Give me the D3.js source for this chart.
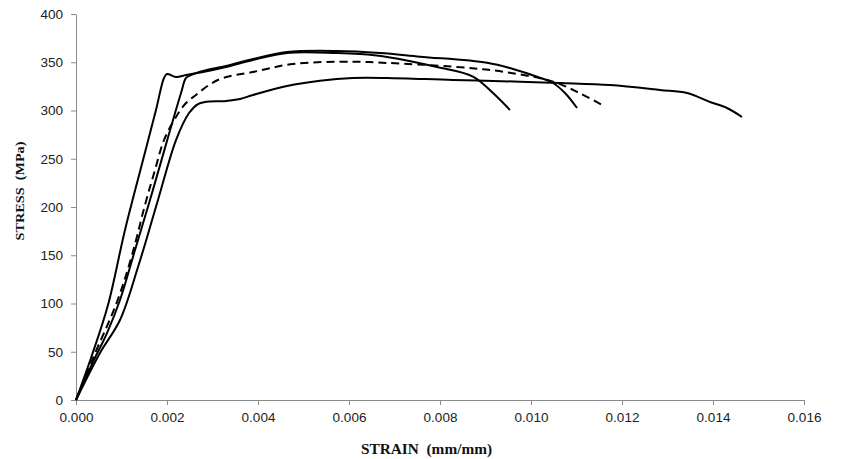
<!DOCTYPE html>
<html>
<head>
<meta charset="utf-8">
<script src="https://cdn.jsdelivr.net/npm/d3@7"></script>
<style>
  html, body { margin: 0; padding: 0; background: #fff; }
  svg { display: block; }
</style>
</head>
<body>
<svg id="chart" width="845" height="459"></svg>
<script>
// ---- data ----
const xTicks = [0, 0.002, 0.004, 0.006, 0.008, 0.010, 0.012, 0.014, 0.016];
const yTicks = [0, 50, 100, 150, 200, 250, 300, 350, 400];

const strainA = [0, 0.000352, 0.000703, 0.001077, 0.001473, 0.001758, 0.001934, 0.002, 0.002198, 0.002418, 0.002791, 0.003297, 0.00389, 0.004637, 0.005736, 0.006242, 0.006835, 0.007934, 0.008725, 0.009165, 0.009538];
const stressA = [0, 46.6, 98.4, 176.2, 248.7, 300.5, 333.7, 337.8, 334.7, 336.8, 339.9, 345.1, 352.3, 359.6, 359.6, 358.6, 355.5, 345.1, 335.2, 318.1, 300.5];

const strainB = [0, 0.000374, 0.000681, 0.000967, 0.001297, 0.001626, 0.002308, 0.002418, 0.002527, 0.002791, 0.003297, 0.00389, 0.004637, 0.005736, 0.006681, 0.00756, 0.009033, 0.009604, 0.010132, 0.010484, 0.010747, 0.011011];
const stressB = [0, 39.4, 69.4, 103.6, 155.4, 207.3, 318.1, 333.7, 336.8, 341, 346.1, 353.4, 360.6, 361.7, 359.6, 355.8, 349.5, 343, 335, 328.5, 318.1, 302.6];

const strainC = [0, 0.000374, 0.000901, 0.001231, 0.001516, 0.001736, 0.001934, 0.002198, 0.002418, 0.002637, 0.002923, 0.003231, 0.00389, 0.004769, 0.006088, 0.006835, 0.008286, 0.009385, 0.010484, 0.011077, 0.011582];
const stressC = [0, 43.5, 101.6, 150.3, 202.1, 238.3, 269.4, 293.3, 307.8, 316.1, 326.4, 333.7, 339.9, 348.2, 350.6, 349.3, 345.4, 340.2, 329.9, 317.8, 305.3];

const strainD = [0, 0.000527, 0.000967, 0.001363, 0.001802, 0.002198, 0.002484, 0.002681, 0.002835, 0.003297, 0.003604, 0.00389, 0.004637, 0.005363, 0.006088, 0.006835, 0.008286, 0.009758, 0.010637, 0.011736, 0.012835, 0.013429, 0.013934, 0.014308, 0.014637];
const stressD = [0, 48.7, 82.9, 137.8, 207.3, 269.4, 297.4, 306.7, 308.8, 309.9, 312, 316.1, 325.4, 330.9, 333.7, 333.7, 331.6, 329.9, 328.5, 326.4, 321.3, 318.1, 308.8, 302.6, 293.3];

const seriesNames = ["A", "B", "C", "D"];
const seriesDash = ["none", "none", "8,5", "none"];

// ---- chart ----
const svg = d3.select("#chart");
const x = d3.scaleLinear().domain([0, 0.016]).range([76, 804]);
const y = d3.scaleLinear().domain([0, 400]).range([400, 14]);
const axisColor = "#8a8a8a";

const xAxis = svg.append("g")
  .attr("transform", `translate(0,${y(0)})`)
  .call(d3.axisBottom(x).tickValues(xTicks).tickFormat(d3.format(".3f")).tickSize(5).tickSizeOuter(0));
const yAxis = svg.append("g")
  .attr("transform", `translate(${x(0)},0)`)
  .call(d3.axisLeft(y).tickValues(yTicks).tickFormat(d3.format("d")).tickSize(5).tickSizeOuter(0));

[xAxis, yAxis].forEach(g => {
  g.select(".domain").attr("stroke", axisColor).attr("stroke-width", 1);
  g.selectAll(".tick line").attr("stroke", axisColor);
  g.selectAll(".tick text")
    .attr("fill", "#222")
    .style("font-family", "'Liberation Sans', Arial, sans-serif")
    .style("font-size", "13.5px");
});
xAxis.selectAll(".tick text").attr("dy", "0").attr("y", 22);
yAxis.selectAll(".tick text").attr("x", -13);

const series = [
  { s: strainA, v: stressA },
  { s: strainB, v: stressB },
  { s: strainC, v: stressC },
  { s: strainD, v: stressD }
];

const line = d3.line()
  .x(d => x(d[0]))
  .y(d => y(d[1]))
  .curve(d3.curveCatmullRom.alpha(0.5));

series.forEach((ser, i) => {
  const pts = ser.s.map((s, k) => [s, ser.v[k]]);
  svg.append("path")
    .datum(pts)
    .attr("class", "series-" + seriesNames[i])
    .attr("fill", "none")
    .attr("stroke", "#000")
    .attr("stroke-width", 2)
    .attr("stroke-linejoin", "round")
    .attr("stroke-dasharray", seriesDash[i])
    .attr("d", line);
});

// axis titles
svg.append("text")
  .attr("x", 361).attr("y", 454)
  .attr("textLength", 131)
  .attr("lengthAdjust", "spacingAndGlyphs")
  .style("white-space", "pre")
  .style("font-family", "'Liberation Serif', 'Times New Roman', serif")
  .style("font-weight", "bold")
  .style("font-size", "14px")
  .attr("fill", "#111")
  .text("STRAIN  (mm/mm)");

svg.append("text")
  .attr("transform", "translate(24,191) rotate(-90)")
  .attr("text-anchor", "middle")
  .attr("textLength", 99)
  .attr("lengthAdjust", "spacingAndGlyphs")
  .style("white-space", "pre")
  .style("font-family", "'Liberation Serif', 'Times New Roman', serif")
  .style("font-weight", "bold")
  .style("font-size", "13px")
  .attr("fill", "#111")
  .text("STRESS  (MPa)");
</script>
</body>
</html>
